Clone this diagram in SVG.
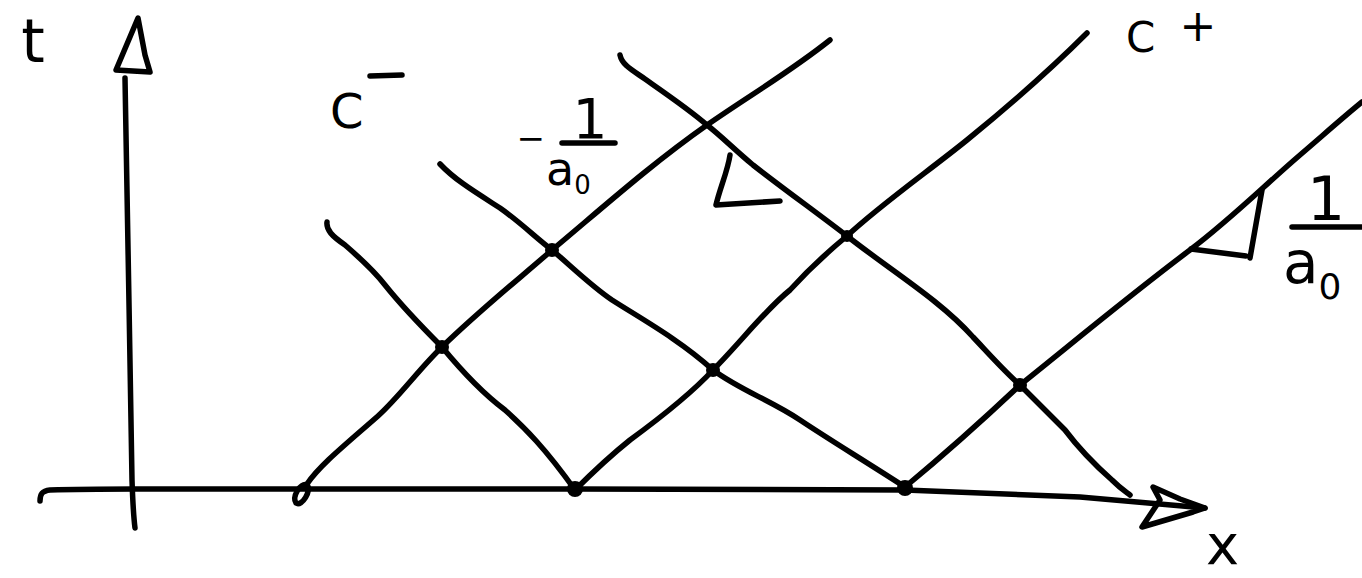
<svg xmlns="http://www.w3.org/2000/svg" width="1362" height="578" viewBox="0 0 1362 578">
<style>
.s{fill:none;stroke:#000;stroke-width:5.5;stroke-linecap:round;stroke-linejoin:round}
.d{fill:#000}
.lbl{font-family:"DejaVu Sans","Liberation Sans",sans-serif;fill:#000}
</style>
<rect width="1362" height="578" fill="#fff"/>
<g id="axes">
  <path class="s" d="M125,78 C127,200 130,350 132,480 C133,510 134,520 135,528"/>
  <path class="s" d="M116,70 L138,18 L145,55 L150,72 Z"/>
  <path class="s" d="M40,501 C40,494 42,491 50,490 C80,489 110,489 135,489 L575,489 L905,490 L1080,497 L1205,508"/>
  <path class="s" d="M1153,487 L1160,500 L1142,527 L1193,512 L1205,508 L1180,499 Z"/>
</g>
<g id="characteristics">
  <path class="s" d="M296,503 C292,497 300,482 307,485 C312,490 302,507 296,503 Z"/>
  <path class="s" d="M307,484 C320,465 345,445 378,416 C400,396 420,368 442,347 C480,310 520,278 552,250 C600,210 650,165 707,125 C750,95 790,72 830,40"/>
  <path class="s" d="M327,222 C326,230 332,236 345,245 C360,258 375,272 385,285 C405,310 425,330 442,347 C465,375 485,395 505,410 C525,428 545,448 575,490"/>
  <path class="s" d="M440,164 C455,180 475,192 500,208 C520,222 535,237 552,250 C570,265 590,285 612,300 C640,318 680,340 713,370 C740,390 770,400 800,420 C830,440 860,458 905,487"/>
  <path class="s" d="M575,490 C590,475 605,460 630,440 C660,418 690,395 713,370 C740,343 765,310 790,290 C810,268 830,250 847,236 C880,205 930,170 967,140 C1010,105 1050,70 1087,33"/>
  <path class="s" d="M620,55 C622,65 632,70 645,79 C665,93 690,110 707,125 C720,135 735,150 753,165 C785,190 820,215 847,236 C890,270 940,300 973,337 C990,355 1005,372 1020,385 C1040,405 1055,420 1065,430 C1080,450 1095,465 1112,480 C1122,490 1128,493 1130,495"/>
  <path class="s" d="M905,487 C940,458 985,418 1020,385 C1070,345 1130,295 1190,250 C1230,220 1265,185 1300,155 C1320,138 1340,120 1362,102"/>
</g>
<g id="slope-markers">
  <path class="s" d="M730,155 C728,170 720,188 716,205 L780,201"/>
  <path class="s" d="M1262,190 L1250,258"/>
  <path class="s" d="M1191,249 L1246,256"/>
</g>
<g id="nodes">
  <circle class="d" cx="442" cy="347" r="7"/>
  <circle class="d" cx="552" cy="250" r="7"/>
  <circle class="d" cx="713" cy="370" r="7"/>
  <circle class="d" cx="847" cy="236" r="6"/>
  <circle class="d" cx="1020" cy="385" r="7"/>
  <circle class="d" cx="575" cy="489" r="8"/>
  <circle class="d" cx="905" cy="488" r="8"/>
</g>
<g id="labels">
  <text class="lbl" x="33" y="62" font-size="60" text-anchor="middle">t</text>
  <text class="lbl" x="330" y="128" font-size="48">C</text>
  <path class="s" d="M370,76 L402,75"/>
  <text class="lbl" x="1126" y="52" font-size="42">C</text>
  <text class="lbl" x="1198" y="41" font-size="44" text-anchor="middle">+</text>
  <text class="lbl" x="545" y="150" font-size="34" text-anchor="end">−</text>
  <text class="lbl" x="590" y="138" font-size="55" text-anchor="middle">1</text>
  <path class="s" d="M562,143 L615,143"/>
  <text class="lbl" x="546" y="185" font-size="46">a<tspan font-size="26" dy="9">0</tspan></text>
  <text class="lbl" x="1326" y="220" font-size="60" text-anchor="middle">1</text>
  <path class="s" d="M1292,227 L1362,227"/>
  <text class="lbl" x="1283" y="283" font-size="58">a<tspan font-size="36" dy="16">0</tspan></text>
  <text class="lbl" x="1206" y="564" font-size="56">x</text>
</g>
</svg>
